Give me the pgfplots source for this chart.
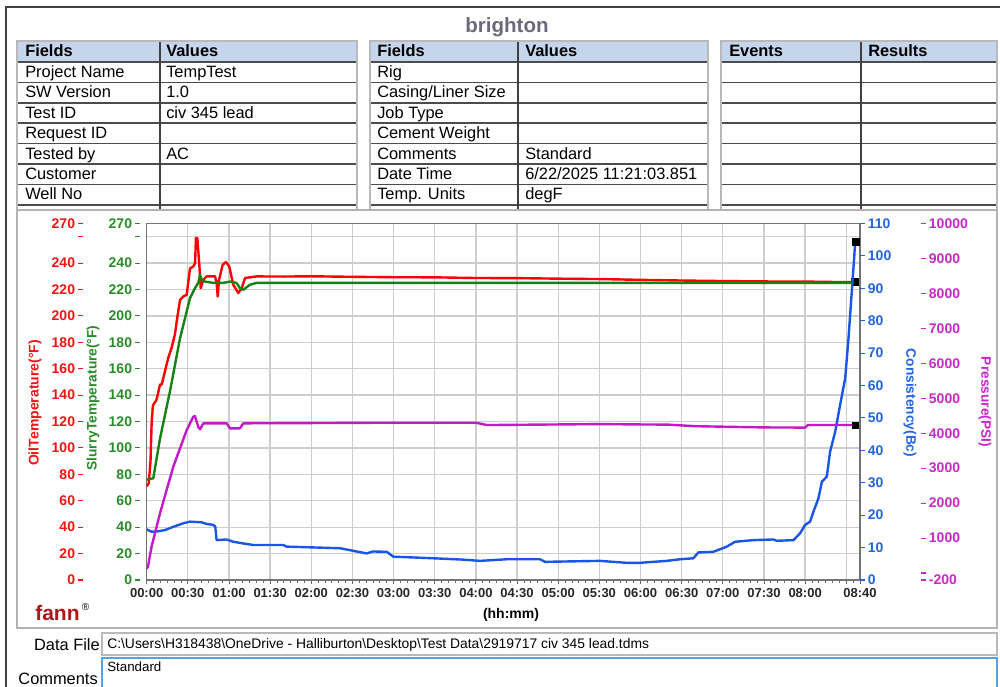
\documentclass[border=0pt]{standalone}
\usepackage{fontspec}
\setmainfont{Liberation Sans}
\usepackage{pgfplots}
\pgfplotsset{compat=1.18}

\definecolor{oilred}{RGB}{255,0,0}
\definecolor{slgreen}{RGB}{20,130,20}
\definecolor{bcblue}{RGB}{25,85,230}
\definecolor{pmag}{RGB}{195,25,200}
\definecolor{redtext}{RGB}{240,20,20}
\definecolor{greentext}{RGB}{40,140,40}
\definecolor{bctext}{RGB}{35,100,225}
\definecolor{ptext}{RGB}{200,40,200}
\definecolor{hdrblue}{RGB}{197,213,235}
\definecolor{titlegray}{RGB}{110,105,122}
\definecolor{gridgray}{RGB}{205,205,205}
\definecolor{fannred}{RGB}{170,25,25}
\definecolor{boxblue}{RGB}{90,160,225}

\newcommand{\tfont}{\fontsize{12.3}{14}\selectfont}
\newcommand{\cell}[3]{\node[anchor=base west, inner sep=0pt, font=\tfont] at (#1,#2) {#3};}

\pgfplotsset{
  base/.style={scale only axis, height=267.4pt, xmin=0, xmax=520,
    scaled y ticks=false, scaled x ticks=false,
    /pgf/number format/assume math mode=true,
    /pgf/number format/1000 sep={},
    tick label style={font=\fontsize{10.5}{12}\selectfont\bfseries}},
  tickaxis/.style={base, width=1pt, xmin=0, xmax=1, hide x axis,
    y axis line style={draw=none}, tick align=outside,
    major tick length=3.75pt, minor tick num=0,
    yticklabel style={inner sep=2pt}},
  dataaxis/.style={base, width=535pt, at={(110pt,79.5pt)}, anchor=south west},
}

\begin{document}
\begin{tikzpicture}
\begin{scope}[x=0.75pt, y=-0.75pt, shift={(0pt,514.5pt)}]
\path[use as bounding box] (0,0) rectangle (1000,686);
% outer frame
\draw[black!75, line width=1.1pt] (6,690) -- (6,7) -- (1003,7);
% title
\node[anchor=base, inner sep=0pt, font=\fontsize{15.4}{17}\selectfont\bfseries, text=titlegray] at (507,32.7) {brighton};
% tables
\foreach \xa/\xm/\xb in {17/160/357, 370/518/708, 721/861/997}{
  \fill[hdrblue] (\xa,41) rectangle (\xb,62);
  \foreach \yy in {62,82.4,102.8,123.2,143.6,164,184.4,204.8}
    \draw[black!70, line width=1.1pt] (\xa,\yy) -- (\xb,\yy);
  \draw[black!75, line width=1.1pt] (\xm,41) -- (\xm,210);
  \draw[gray!55, line width=0.9pt] (\xa,210) -- (\xa,41) -- (\xb,41) -- (\xb,210);
}
% table 1
\cell{25}{56.8}{\bfseries Fields}
\cell{166}{56.8}{\bfseries Values}
\cell{25}{77.5}{Project Name}   \cell{166}{77.5}{TempTest}
\cell{25}{97.9}{SW Version}     \cell{166}{97.9}{1.0}
\cell{25}{118.3}{Test ID}       \cell{166}{118.3}{civ 345 lead}
\cell{25}{138.7}{Request ID}
\cell{25}{159.1}{Tested by}     \cell{166}{159.1}{AC}
\cell{25}{179.5}{Customer}
\cell{25}{199.9}{Well No}
% table 2
\cell{377}{56.8}{\bfseries Fields}
\cell{525}{56.8}{\bfseries Values}
\cell{377}{77.5}{Rig}
\cell{377}{97.9}{Casing/Liner Size}
\cell{377}{118.3}{Job Type}
\cell{377}{138.7}{Cement Weight}
\cell{377}{159.1}{Comments}     \cell{525}{159.1}{Standard}
\cell{377}{179.5}{Date Time}    \cell{525}{179.5}{6/22/2025 11:21:03.851}
\cell{377}{199.9}{Temp. Units}  \cell{525}{199.9}{degF}
% table 3
\cell{729}{56.8}{\bfseries Events}
\cell{868}{56.8}{\bfseries Results}
% chart panel
\draw[gray!60, line width=0.9pt] (17,210) rectangle (997,628);
% axis titles
\node[rotate=90, text=redtext, font=\fontsize{10.5}{12}\selectfont\bfseries] at (35,403) {OilTemperature(°F)};
\node[rotate=90, text=greentext, font=\fontsize{10.3}{12}\selectfont\bfseries] at (93,398) {SlurryTemperature(°F)};
\node[rotate=-90, text=bctext, font=\fontsize{10.3}{12}\selectfont\bfseries] at (910,403) {Consistency(Bc)};
\node[rotate=-90, text=ptext, font=\fontsize{10.3}{12}\selectfont\bfseries] at (985,402) {Pressure(PSI)};
\node[anchor=base, inner sep=0pt, font=\fontsize{10.5}{12}\selectfont\bfseries] at (511,618) {(hh:mm)};
% logo
\node[anchor=base west, inner sep=0pt, font=\fontsize{15.75}{17}\selectfont\bfseries, text=fannred] at (35,620) {fann};
\node[anchor=base west, inner sep=0pt, font=\fontsize{7.5}{8}\selectfont] at (81.5,610) {\textregistered};
% bottom boxes
\node[anchor=base east, inner sep=0pt, font=\tfont] at (100,650) {Data File};
\draw[gray!55, line width=0.8pt] (102,633) rectangle (997,655);
\node[anchor=base west, inner sep=0pt, font=\fontsize{10.4}{12}\selectfont] at (107,648.5) {C:\textbackslash Users\textbackslash H318438\textbackslash OneDrive - Halliburton\textbackslash Desktop\textbackslash Test Data\textbackslash 2919717 civ 345 lead.tdms};
\draw[boxblue, line width=0.8pt] (102,692) -- (102,658) -- (997,658) -- (997,692);
\node[anchor=base west, inner sep=0pt, font=\fontsize{10}{12}\selectfont] at (107,671) {Standard};
\node[anchor=base east, inner sep=0pt, font=\tfont] at (98,684) {Comments};
\end{scope}

% ---------- temperature axis (oil + slurry), frame, grid, time axis ----------
\begin{axis}[dataaxis, ymin=0, ymax=270,
  axis line style={draw=black!55, line width=0.8pt},
  xtick={0,30,...,510,520},
  xticklabels={00:00,00:30,01:00,01:30,02:00,02:30,03:00,03:30,04:00,04:30,05:00,05:30,06:00,06:30,07:00,07:30,08:00,{},08:40},
  minor xtick={0,5,...,520},
  xtick pos=left, ytick pos=left,
  tick align=outside,
  x tick style={draw=black!60, line width=0.6pt},
  major tick length=3pt, minor tick length=2pt,
  ytick={0,20,...,260}, yticklabels={}, y tick style={draw=none},
  grid=major, major grid style={gridgray, line width=1pt},
  xticklabel style={font=\fontsize{9.75}{11}\selectfont\bfseries, text=black!85},
]
\addplot[oilred, line width=1.8pt, line join=round] coordinates {
(0,71) (1.5,73) (2.8,90) (3.6,118) (4.5,132) (5.6,134) (7,136) (8,140) (9.7,148) (11,148)
(13.3,158) (15.7,168) (18.2,176) (20.6,186) (22.5,200) (24.3,212) (26.7,214.7) (29.2,216)
(31.6,236) (34,237.5) (35.3,240) (35.9,259) (36.9,259) (38.4,238.7) (39.4,221) (41.3,227.4)
(43.7,229.9) (49.8,230) (51,225) (51.8,214.7) (52.7,227) (55.4,238.7) (57.8,240.8)
(60.2,237.5) (63.1,223.6) (66.8,217.3) (69.3,221) (71.7,228.7) (80.2,229.9) (100,229.8)
(120,230) (150,229.6) (180,229.3) (210,229.2) (240,228.7) (270,228.6) (300,228.2)
(330,227.9) (360,227.3) (390,226.8) (420,226.4) (450,226.1) (480,226) (500,225.7) (516.5,225.5)
};
\addplot[slgreen, line width=1.8pt, line join=round] coordinates {
(0,76) (4.8,77) (9.7,107) (17,143) (24.3,183) (31.6,213.5) (35.2,221) (37.6,225) (38.9,231)
(40.1,227.4) (42.5,226) (48.6,225) (55.9,225) (60.7,226) (65.6,224.9) (68,221) (70.4,219.8)
(75.3,223.6) (80.2,225) (120,225) (200,225) (300,225) (400,225) (480,225) (514,225)
};
\addplot[only marks, mark=square*, mark size=2.6pt, black] coordinates {(516.5,225.5)};
\end{axis}

% ---------- consistency axis ----------
\begin{axis}[dataaxis, ymin=0, ymax=110, hide x axis,
  axis y line*=right, y axis line style={draw=none},
  tick align=outside, major tick length=3.75pt,
  ytick={0,10,...,110},
  yticklabel style={text=bctext, inner sep=2pt},
  y tick style={draw=bctext, line width=0.8pt}]
\addplot[bcblue, line width=1.8pt, line join=round] coordinates {
(0,15.6) (3.6,14.9) (8,15) (13.3,15.4) (20,16.5) (26.7,17.5) (31.6,18) (40,17.8) (43.7,17.3)
(48.6,17) (50,16.5) (51,12.3) (58.3,12.5) (63.1,11.8) (70,11.3) (77.7,10.8) (99.6,10.8)
(102,10.3) (141,9.8) (150.7,9.0) (160.4,8.2) (165,8.8) (175,8.7) (179.8,7.2) (209,6.7)
(230,6.3) (243,5.9) (262.5,6.4) (286.8,6.4) (290.4,5.6) (330.4,5.9) (350,5.3) (359.6,5.3)
(379.2,5.9) (388.9,6.4) (398.5,6.7) (402.2,8.5) (413.1,8.7) (422.9,10.3) (429,11.8)
(442.3,12.3) (456.9,12.5) (459.4,12.1) (471.5,12.3) (476.3,14.4) (480,17) (483.6,18)
(486,21) (489.7,25.2) (492.2,30.3) (495.8,31.9) (498.2,39.6) (501.9,45.7) (505.5,54)
(509.2,62.2) (511.6,74.5) (514,88.9) (515.7,99.2) (516.5,104.3)
};
\addplot[only marks, mark=square*, mark size=2.4pt, black] coordinates {(517,104.3)};
\end{axis}

% ---------- pressure axis (data) ----------
\begin{axis}[dataaxis, ymin=-200, ymax=10000, hide axis]
\addplot[pmag, line width=1.8pt, line join=round] coordinates {
(0,130) (1,180) (2,420) (3.6,752) (9.7,1707) (19.4,3040) (29.2,4090) (34,4470) (35.2,4490)
(37.6,4184) (38.9,4110) (41.3,4282) (58.3,4282) (60.7,4139) (68,4139) (70.4,4282)
(120,4290) (180,4300) (240,4300) (248,4233) (300,4250) (330,4260) (360,4250) (380,4245)
(400,4200) (450,4165) (480,4160) (482,4233) (516.5,4233)
};
\addplot[only marks, mark=square*, mark size=2.4pt, black] coordinates {(516.5,4233)};
\end{axis}

% ---------- tick-only axes ----------
\begin{axis}[tickaxis, at={(62.25pt,79.5pt)}, anchor=south west,
  ymin=0, ymax=270, axis y line*=left,
  ytick={0,20,...,240,260,270},
  yticklabels={0,20,40,60,80,100,120,140,160,180,200,220,240,{},270},
  yticklabel style={text=redtext},
  y tick style={draw=redtext, line width=0.8pt}]
\end{axis}
\begin{axis}[tickaxis, at={(105pt,79.5pt)}, anchor=south west,
  ymin=0, ymax=270, axis y line*=left,
  ytick={0,20,...,240,260,270},
  yticklabels={0,20,40,60,80,100,120,140,160,180,200,220,240,{},270},
  yticklabel style={text=greentext},
  y tick style={draw=greentext, line width=0.8pt}]
\end{axis}
\begin{axis}[tickaxis, at={(690.75pt,79.5pt)}, anchor=south east,
  ymin=-200, ymax=10000, axis y line*=right,
  ytick={-200,0,1000,2000,3000,4000,5000,6000,7000,8000,9000,10000},
  yticklabels={-200,{},1000,2000,3000,4000,5000,6000,7000,8000,9000,10000},
  yticklabel style={text=ptext},
  y tick style={draw=ptext, line width=0.8pt}]
\end{axis}
\end{tikzpicture}
\end{document}
